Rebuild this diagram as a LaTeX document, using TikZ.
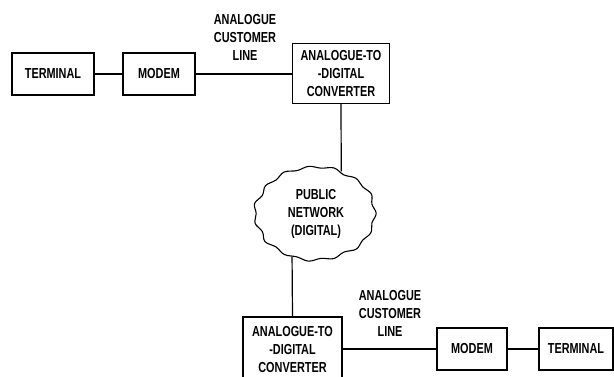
\documentclass[tikz,border=0pt]{standalone}
\usepackage{fontspec}
\newfontfamily\diafont{Liberation Sans}[FakeStretch=0.75]
\usetikzlibrary{shapes.geometric}
\begin{document}
\begin{tikzpicture}[x=1pt,y=1pt,
  every node/.style={font=\diafont\bfseries\fontsize{14.5}{18}\selectfont, align=center, inner sep=0pt},
  box/.style={draw, line width=1.2pt, rectangle},
  conn/.style={line width=1.2pt},
  netshape/.style={ellipse, minimum width=120pt, minimum height=93pt},
  cloudline/.style={line width=1.1pt, line join=round}]
\useasboundingbox (0,0) rectangle (614,376);
\clip (0,0) rectangle (614,376);
\node[box, minimum width=82pt, minimum height=42pt] (term1) at (53,302) {TERMINAL};
\node[box, minimum width=72pt, minimum height=42pt] (modem1) at (159,302) {MODEM};
\node[box, minimum width=97pt, minimum height=60pt] (adc1) at (341,302.5) {ANALOGUE-TO\\-DIGITAL\\CONVERTER};
\node (lab1) at (245,339) {ANALOGUE\\CUSTOMER\\LINE};
\node[netshape] (net) at (315,162.5) {};
\begin{scope}[shift={(net.center)}]
\draw[cloudline] plot[smooth cycle, tension=0.6] coordinates {
 (0:61.2 and 47.4) (12:58.2 and 45.1) (24:61.8 and 47.9) (36:58.8 and 45.6)
 (48:61.2 and 47.4) (60:57.6 and 44.6) (72:61.8 and 47.9) (84:58.8 and 45.6)
 (96:61.2 and 47.4) (108:58.2 and 45.1) (120:61.8 and 47.9) (132:58.2 and 45.1)
 (144:61.2 and 47.4) (156:57.6 and 44.6) (168:61.8 and 47.9) (180:58.8 and 45.6)
 (192:61.2 and 47.4) (204:57.6 and 44.6) (216:61.8 and 47.9) (228:58.2 and 45.1)
 (240:61.2 and 47.4) (252:58.8 and 45.6) (264:61.8 and 47.9) (276:58.2 and 45.1)
 (288:61.2 and 47.4) (300:57.6 and 44.6) (312:61.8 and 47.9) (324:58.8 and 45.6)
 (336:61.2 and 47.4) (348:58.2 and 45.1)};
\end{scope}
\node (nettext) at (316,162) {PUBLIC\\NETWORK\\(DIGITAL)};
\node[box, minimum width=99pt, minimum height=66pt] (adc2) at (292.5,26) {ANALOGUE-TO\\-DIGITAL\\CONVERTER};
\node (lab2) at (390,63) {ANALOGUE\\CUSTOMER\\LINE};
\node[box, minimum width=70pt, minimum height=42pt] (modem2) at (472,27) {MODEM};
\node[box, minimum width=74pt, minimum height=42pt] (term2) at (576,27) {TERMINAL};
\draw[conn] (term1.east) -- (term1.east -| modem1.west);
\draw[conn] (modem1.east) -- (modem1.east -| adc1.west);
\draw[conn] (adc1.south) -- (net.58);
\draw[conn] (net.242) -- (adc2.north);
\draw[conn] (adc2.east |- modem2.west) -- (modem2.west);
\draw[conn] (modem2.east) -- (term2.west);
\end{tikzpicture}
\end{document}
